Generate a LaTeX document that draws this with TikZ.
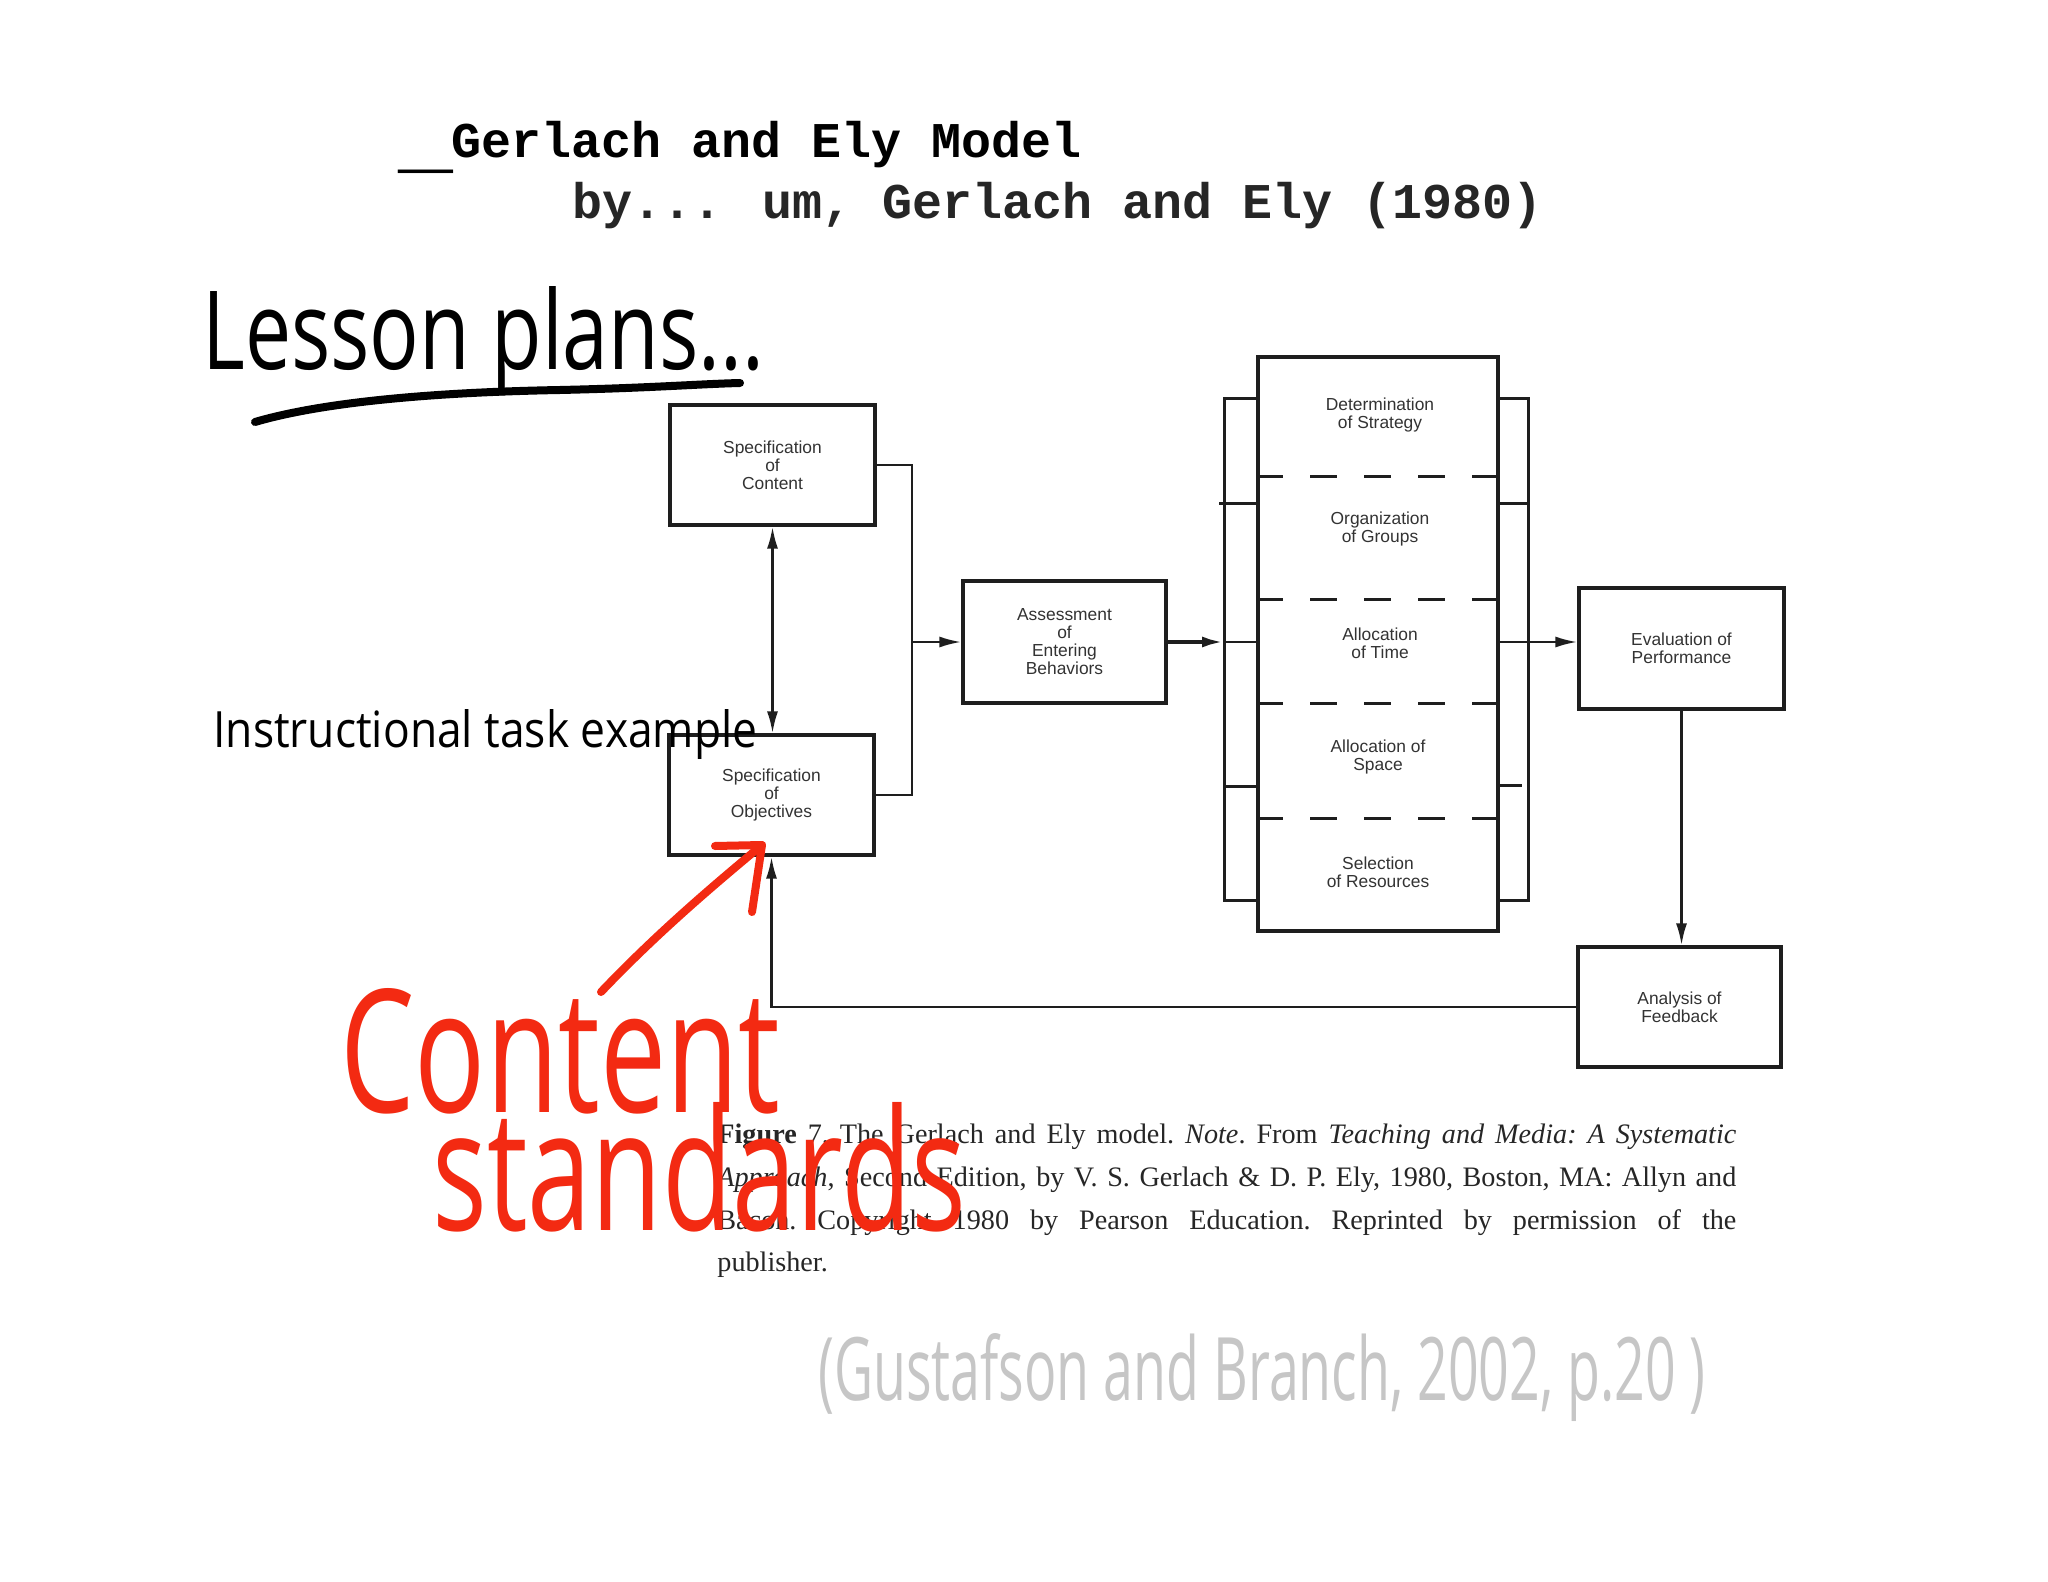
\documentclass[tikz,border=0pt]{standalone}
\usepackage{fontspec}
\usepackage{graphicx}
\usetikzlibrary{arrows.meta}
\newfontfamily\boxfont{Liberation Sans}
\newfontfamily\titlefont{Liberation Mono}
\newfontfamily\capfont{Liberation Serif}
\newfontfamily\handfont{Open Sans}
\definecolor{hred}{RGB}{243,42,18}
\definecolor{hgray}{RGB}{198,198,198}
\definecolor{ink}{RGB}{30,30,30}
\begin{document}
\begin{tikzpicture}[x=0.5pt,y=-0.5pt,
  boxn/.style={draw=ink, line width=1.6pt, inner sep=0pt, align=center,
    font=\boxfont\fontsize{8.7}{9}\selectfont, text=black!80},
  lbl/.style={inner sep=0pt, align=center, font=\boxfont\fontsize{8.7}{9}\selectfont, text=black!80},
  conn/.style={draw=ink, line width=1.3pt},
  arr/.style={conn, -{Latex[length=11pt,width=5.5pt]}},
  dbl/.style={conn, {Latex[length=11pt,width=5.5pt]}-{Latex[length=11pt,width=5.5pt]}},
  dline/.style={draw=ink, line width=1.5pt, dash pattern=on 13.5pt off 13.5pt},
  brk/.style={draw=ink, line width=1.5pt},
  hand/.style={inner sep=0pt, anchor=base west},
  capline/.style={inner sep=0pt, anchor=base west, text=black!85,
    font=\capfont\frenchspacing\fontsize{14.1}{20}\selectfont},
  redpen/.style={draw=hred, line width=4pt, line cap=round, line join=round},
]
\path[use as bounding box, fill=white] (0,0) rectangle (2048,1582);

% title
\node[anchor=base west, inner sep=0pt, text=black, font=\titlefont\bfseries\fontsize{25}{25}\selectfont]
  (dash) at (398,166) {\scalebox{1.83}[1.5]{\_}};
\node[anchor=base west, inner sep=0pt, text=black, font=\titlefont\bfseries\fontsize{25}{25}\selectfont]
  (title) at (451,158) {Gerlach and Ely Model};
\node[anchor=base west, inner sep=0pt, text=black!85, font=\titlefont\bfseries\fontsize{25}{25}\selectfont]
  (subtitle) at (572,219) {by... um, Gerlach and Ely (1980)};

% handwritten headline
\node[hand] (lesson) at (202,370) {\handfont\resizebox{281pt}{41.5pt}{Lesson plans...}};
\coordinate (ul0) at (255,422);
\coordinate (ul1) at (560,390);
\coordinate (ul2) at (740,383);
\draw[line width=4pt, line cap=round] (ul0) .. controls (330,400) and (450,392) .. (ul1)
  .. controls (650,388) and (700,384) .. (ul2);

% boxes
\node[boxn, minimum width=102.5pt, minimum height=60pt] (content) at (772.5,465) {Specification\\of\\Content};
\node[boxn, minimum width=102.5pt, minimum height=60pt] (objectives) at (771.5,795) {Specification\\of\\Objectives};
\node[boxn, minimum width=101.5pt, minimum height=61pt] (assess) at (1064.5,642) {Assessment\\of\\Entering\\Behaviors};
\node[boxn, minimum width=120pt, minimum height=287pt] (big) at (1378,644) {};
\node[boxn, minimum width=102.5pt, minimum height=60.5pt] (eval) at (1681.5,648.5) {Evaluation of\\Performance};
\node[boxn, minimum width=101.5pt, minimum height=60pt] (analysis) at (1679.5,1007) {Analysis of\\Feedback};

% sections of the big box
\node[lbl] (s1) at (1380,415) {Determination\\of Strategy};
\node[lbl] (s2) at (1380,529) {Organization\\of Groups};
\node[lbl] (s3) at (1380,643) {Allocation\\of Time};
\node[lbl] (s4) at (1378,757) {Allocation of\\Space};
\node[lbl] (s5) at (1378,872) {Selection\\of Resources};
\foreach \yy in {477,599,703,818}
  \draw[dline] (big.west |- 0,\yy) -- (big.east |- 0,\yy);

% brackets
\draw[brk] (big.west |- 0,399) -- (1224,399) -- (1224,900) -- (big.west |- 0,900);
\draw[brk] (big.east |- 0,399) -- (1528,399) -- (1528,900) -- (big.east |- 0,900);
\draw[brk] (1219,504) -- (big.west |- 0,504);
\draw[brk] (1224,786) -- (big.west |- 0,786);
\draw[brk] (big.east |- 0,504) -- (1528,504);
\draw[brk] (big.east |- 0,785) -- (1522,785);

% connectors
\draw[dbl] (content.south) -- (content.south |- objectives.north);
\coordinate (j) at (912,642);
\draw[conn] (content.east) -| (j) |- (objectives.east);
\draw[arr] (j) -- (j -| assess.west);
\coordinate (lb) at (1224,642);
\draw[arr, line width=2pt] (assess.east |- lb) -- (lb);
\draw[conn] (lb) -- (lb -| big.west);
\draw[arr] (big.east |- lb) -- (lb -| eval.west);
\draw[arr] (eval.south) -- (eval.south |- analysis.north);
\draw[arr] (analysis.west) -| (objectives.south);

% handwritten note
\node[hand] (task) at (213,747) {\handfont\resizebox{272pt}{19pt}{Instructional task example}};

% caption
\node[capline] (cap1) at (717,1143) {\makebox[509.5pt][s]{\bfseries Figure\mdseries{} 7. The Gerlach and Ely model. \textit{Note}. From \textit{Teaching and Media: A Systematic}}};
\node[capline] (cap2) at (717,1186) {\makebox[509.5pt][s]{\textit{Approach}, Second Edition, by V. S. Gerlach \& D. P. Ely, 1980, Boston, MA: Allyn and}};
\node[capline] (cap3) at (717,1229) {\makebox[509.5pt][s]{Bacon. Copyright 1980 by Pearson Education. Reprinted by permission of the}};
\node[capline] (cap4) at (717,1271) {publisher.};

% red annotation
\node[hand, text=hred] (ct) at (340,1112) {\handfont\resizebox{220pt}{62pt}{Content}};
\node[hand, text=hred] (st) at (432,1230) {\handfont\resizebox{267pt}{64pt}{standards}};
\coordinate (ra0) at (601,992);
\coordinate (ra1) at (762,845);
\coordinate (ra2) at (715,846);
\coordinate (ra3) at (752,912);
\draw[redpen] (ra0) .. controls (660,930) and (720,880) .. (ra1);
\draw[redpen] (ra2) -- (ra1) -- (ra3);

% grey reference
\node[hand, text=hgray] (ref) at (818,1400) {\handfont\resizebox{443.5pt}{33.5pt}{(Gustafson and Branch, 2002, p.20 )}};
\end{tikzpicture}
\end{document}
